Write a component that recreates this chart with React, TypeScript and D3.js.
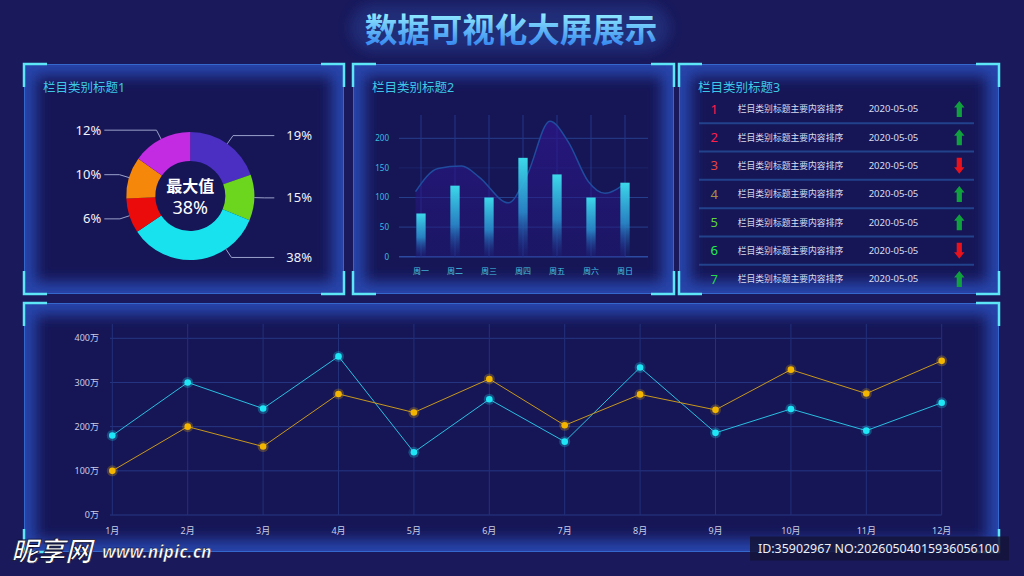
import React from 'react';
import * as d3 from 'd3';

// ---------- data ----------
const pageTitle = '数据可视化大屏展示';
const panelTitles = ['栏目类别标题1', '栏目类别标题2', '栏目类别标题3'];

const pieLabels = ['19%', '15%', '38%', '6%', '10%', '12%'];
const pieValues = [19.6, 11.6, 34.4, 8.8, 10.5, 15.1];
const pieColors = ['#4b2fc3', '#6cd61e', '#17e2ee', '#ec0b0b', '#f5880a', '#c32be3'];
const pieCenterTitle = '最大值';

const weekDays = ['周一', '周二', '周三', '周四', '周五', '周六', '周日'];
const barValues = [73, 120, 100, 167, 139, 100, 125];
const barTicks = [0, 50, 100, 150, 200];
const wavePos = [-0.16, 0.5, 1.2, 1.7, 2.57, 3.12, 3.79, 4.33, 4.92, 5.41, 6];
const waveValues = [110, 149, 153, 135, 91, 138, 229, 194, 127, 107, 124];

const rankNums = ['1', '2', '3', '4', '5', '6', '7'];
const rankColors = ['#ff1f4b', '#ff1f4b', '#e8433c', '#a89042', '#5fd43c', '#22f04c', '#22dc4c'];
const rankTexts = ['栏目类别标题主要内容排序', '栏目类别标题主要内容排序', '栏目类别标题主要内容排序', '栏目类别标题主要内容排序', '栏目类别标题主要内容排序', '栏目类别标题主要内容排序', '栏目类别标题主要内容排序'];
const rankDates = ['2020-05-05', '2020-05-05', '2020-05-05', '2020-05-05', '2020-05-05', '2020-05-05', '2020-05-05'];
const rankTrend = ['up', 'up', 'down', 'up', 'up', 'down', 'up'];

const months = ['1月', '2月', '3月', '4月', '5月', '6月', '7月', '8月', '9月', '10月', '11月', '12月'];
const seriesCyan = [180, 300, 241, 359, 142, 262, 166, 334, 186, 240, 191, 254];
const seriesGold = [100, 200, 155, 274, 232, 308, 203, 273, 238, 329, 275, 349];
const lineTicks = [0, 100, 200, 300, 400];

const watermarkLogo = '昵享网';
const watermarkUrl = 'www.nipic.cn';
const watermarkId = 'ID:35902967 NO:20260504015936056100';

// ---------- styles ----------
const FONT = "'Noto Sans', 'Noto Sans CJK SC', sans-serif";
const BG = '#19195c';
const PANEL_BG = '#161657';

const panels = [
  { x: 24, y: 64, w: 320, h: 230 },
  { x: 353, y: 64, w: 321, h: 230 },
  { x: 679, y: 64, w: 320, h: 230 },
  { x: 24, y: 303, w: 975, h: 249 },
];

function Panel({ id, x, y, w, h }: { id: number; x: number; y: number; w: number; h: number }) {
  const L = 23;
  const corners = [
    `M${x},${y + L}V${y}H${x + L}`,
    `M${x + w - L},${y}H${x + w}V${y + L}`,
    `M${x},${y + h - L}V${y + h}H${x + L}`,
    `M${x + w - L},${y + h}H${x + w}V${y + h - L}`,
  ];
  return (
    <g>
      <clipPath id={`pclip${id}`}>
        <rect x={x} y={y} width={w} height={h} />
      </clipPath>
      <g clipPath={`url(#pclip${id})`}>
        <rect x={x} y={y} width={w} height={h} fill={PANEL_BG} />
        <rect x={x} y={y} width={w} height={h} fill="none" stroke="#2845ab" strokeWidth={24} filter="url(#softblur)" />
      </g>
      <rect x={x + 0.5} y={y + 0.5} width={w - 1} height={h - 1} fill="none" stroke="#3468cc" strokeWidth={1} />
      {corners.map((d, i) => (
        <path key={i} d={d} fill="none" stroke="#5ce6f6" strokeWidth={2.5} />
      ))}
    </g>
  );
}

function Donut() {
  const cx = 190.3, cy = 196, rIn = 35, rOut = 64;
  const pie = d3.pie<number>().sort(null).value((d) => d)(pieValues);
  const arc = d3.arc<d3.PieArcDatum<number>>().innerRadius(rIn).outerRadius(rOut);
  const maxIdx = d3.maxIndex(pieLabels.map((s) => parseFloat(s)));
  return (
    <g>
      <g transform={`translate(${cx},${cy})`}>
        {pie.map((p, i) => (
          <path key={i} d={arc(p) || ''} fill={pieColors[i]} />
        ))}
      </g>
      {pie.map((p, i) => {
        const mid = (p.startAngle + p.endAngle) / 2;
        const right = Math.sin(mid) > 0;
        // anchor the leader on the part of the slice lying on the label's side
        const lo = right ? 0 : Math.PI, hi = right ? Math.PI : 2 * Math.PI;
        const a = (Math.max(p.startAngle, lo) + Math.min(p.endAngle, hi)) / 2;
        const s = Math.sin(a), c = Math.cos(a);
        const x0 = cx + rOut * s, y0 = cy - rOut * c;
        const x1 = cx + (rOut + 10) * s, y1 = cy - (rOut + 10) * c;
        const x2 = right ? cx + 84 : cx - 86;
        return (
          <g key={i}>
            <polyline points={`${x0},${y0} ${x1},${y1} ${x2},${y1}`} fill="none" stroke="#9aa1c9" strokeWidth={1} />
            <text x={right ? cx + 96 : cx - 89} y={y1} dy="0.35em" textAnchor={right ? 'start' : 'end'} fill="#f2f3fb" fontSize={13}>
              {pieLabels[i]}
            </text>
          </g>
        );
      })}
      <text x={cx} y={cy - 4} textAnchor="middle" fill="#ffffff" fontSize={16} fontWeight={700}>{pieCenterTitle}</text>
      <text x={cx} y={cy + 18} textAnchor="middle" fill="#ffffff" fontSize={18}>{pieLabels[maxIdx]}</text>
    </g>
  );
}

function BarChart() {
  const x = d3.scalePoint<string>().domain(weekDays).range([404, 642]).padding(0.5);
  const y = d3.scaleLinear().domain([0, 200]).range([256.7, 138.3]);
  const bw = 9.3;
  const x0 = x(weekDays[0]) as number;
  const step = x.step();
  const pts: [number, number][] = wavePos.map((p, i) => [x0 + p * step, y(waveValues[i])]);
  const area = d3.area<[number, number]>().x((d) => d[0]).y0(y(0)).y1((d) => d[1]).curve(d3.curveMonotoneX)(pts) || '';
  const line = d3.line<[number, number]>().x((d) => d[0]).y((d) => d[1]).curve(d3.curveMonotoneX)(pts) || '';
  return (
    <g>
      {barTicks.map((t) => (
        <g key={t}>
          <line x1={399} x2={648} y1={y(t)} y2={y(t)} stroke={t === 0 ? '#2c4aa2' : '#263f8c'} strokeWidth={t === 0 ? 1.5 : 1} opacity={t === 150 ? 0.35 : 1} />
          <text x={389} y={y(t)} dy="0.35em" textAnchor="end" fill="#3cbde0" fontSize={8}>{t}</text>
        </g>
      ))}
      {weekDays.map((d) => (
        <g key={d}>
          <line x1={x(d)} x2={x(d)} y1={115} y2={y(0)} stroke="#22378a" strokeWidth={1} />
          <text x={x(d)} y={270.7} dy="0.35em" textAnchor="middle" fill="#45c3e3" fontSize={8}>{d}</text>
        </g>
      ))}
      <path d={area} fill="url(#waveGrad)" />
      <path d={line} fill="none" stroke="#1f4c9e" strokeWidth={1.5} />
      {weekDays.map((d, i) => (
        <rect key={d} x={(x(d) as number) - bw / 2} y={y(barValues[i])} width={bw} height={y(0) - y(barValues[i])} fill="url(#barGrad)" />
      ))}
    </g>
  );
}

function Arrow({ cx, cy, up }: { cx: number; cy: number; up: boolean }) {
  const k = up ? 1 : -1;
  const d = `M${cx},${cy - 8 * k}L${cx + 5.2},${cy - 1.5 * k}L${cx + 2.6},${cy - 1.5 * k}L${cx + 2.6},${cy + 8 * k}L${cx - 2.6},${cy + 8 * k}L${cx - 2.6},${cy - 1.5 * k}L${cx - 5.2},${cy - 1.5 * k}Z`;
  return <path d={d} fill={up ? '#10a03e' : '#e8121c'} />;
}

function RankList() {
  const y = d3.scalePoint<string>().domain(rankNums).range([109, 279]);
  const step = y.step();
  return (
    <g>
      {rankNums.slice(0, -1).map((n) => (
        <line key={n} x1={699} x2={974} y1={(y(n) as number) + step / 2} y2={(y(n) as number) + step / 2} stroke="#22428c" strokeWidth={2} />
      ))}
      {rankNums.map((n, i) => {
        const cy = y(n) as number;
        return (
          <g key={n}>
            <text x={714.3} y={cy} dy="0.36em" textAnchor="middle" fill={rankColors[i]} fontSize={13}>{n}</text>
            <text x={737.7} y={cy} dy="0.36em" fill="#d9ddf0" fontSize={8.8}>{rankTexts[i]}</text>
            <text x={868.7} y={cy} dy="0.36em" fill="#d9ddf0" fontSize={9.5}>{rankDates[i]}</text>
            <Arrow cx={959.3} cy={cy} up={rankTrend[i] === 'up'} />
          </g>
        );
      })}
    </g>
  );
}

function LineChart() {
  const x = d3.scalePoint<string>().domain(months).range([112.3, 941.7]);
  const y = d3.scaleLinear().domain([0, 400]).range([515, 338.3]);
  const series = [
    { values: seriesCyan, line: '#2bbfe0', dot: '#1fe6f6' },
    { values: seriesGold, line: '#c9981b', dot: '#f3b500' },
  ];
  const lineGen = d3.line<number>().x((_, i) => x(months[i]) as number).y((d) => y(d));
  return (
    <g>
      {lineTicks.map((t) => (
        <g key={t}>
          <line x1={110} x2={941.7} y1={y(t)} y2={y(t)} stroke="#263683" strokeWidth={1} />
          <text x={99} y={y(t)} dy="0.35em" textAnchor="end" fill="#c9cde6" fontSize={9}>{`${t}万`}</text>
        </g>
      ))}
      {months.map((m) => (
        <g key={m}>
          <line x1={x(m)} x2={x(m)} y1={324} y2={515} stroke="#22317a" strokeWidth={1} />
          <text x={x(m)} y={530.7} dy="0.35em" textAnchor="middle" fill="#c9cde6" fontSize={9}>{m}</text>
        </g>
      ))}
      {series.map((s, si) => (
        <g key={si}>
          <path d={lineGen(s.values) || ''} fill="none" stroke={s.line} strokeWidth={1} />
          {s.values.map((v, i) => (
            <g key={i}>
              <circle cx={x(months[i])} cy={y(v)} r={5.5} fill={s.dot} opacity={0.25} />
              <circle cx={x(months[i])} cy={y(v)} r={3.3} fill={s.dot} />
            </g>
          ))}
        </g>
      ))}
    </g>
  );
}

export default function App() {
  return (
    <svg width={1024} height={576} style={{ position: 'absolute', left: 0, top: 0, display: 'block' }} fontFamily={FONT}>
      <defs>
        <filter id="softblur" x="-10%" y="-10%" width="120%" height="120%">
          <feGaussianBlur stdDeviation={7} />
        </filter>
        <filter id="titleblur" x="-20%" y="-50%" width="140%" height="200%">
          <feGaussianBlur stdDeviation={6} />
        </filter>
        <linearGradient id="titleGrad" x1="0" y1="14" x2="0" y2="44" gradientUnits="userSpaceOnUse">
          <stop offset="0" stopColor="#8fe9ff" />
          <stop offset="1" stopColor="#3a8cf0" />
        </linearGradient>
        <linearGradient id="barGrad" x1="0" y1="0" x2="0" y2="1">
          <stop offset="0" stopColor="#3cd8ea" />
          <stop offset="0.55" stopColor="#2a92d0" stopOpacity={0.85} />
          <stop offset="1" stopColor="#1d3a92" stopOpacity={0.1} />
        </linearGradient>
        <linearGradient id="waveGrad" x1="0" y1="0" x2="0" y2="1">
          <stop offset="0" stopColor="#2e168f" stopOpacity={0.7} />
          <stop offset="1" stopColor="#24177a" stopOpacity={0.4} />
        </linearGradient>
      </defs>
      <rect width={1024} height={576} fill={BG} />
      {/* title */}
      <rect x={350} y={4} width={320} height={48} rx={24} fill="#22307e" opacity={0.8} filter="url(#titleblur)" />
      <text x={511} y={42} textAnchor="middle" fontSize={32.5} fontWeight={700} fill="url(#titleGrad)" fontFamily="'Noto Sans CJK SC', sans-serif">
        {pageTitle}
      </text>
      {panels.map((p, i) => (
        <Panel key={i} id={i} {...p} />
      ))}
      {panelTitles.map((t, i) => (
        <text key={t} x={panels[i].x + 19} y={87} dy="0.36em" fill="#3cc8e6" fontSize={12.5}>{t}</text>
      ))}
      <Donut />
      <BarChart />
      <RankList />
      <LineChart />
      {/* watermark */}
      <text x={11} y={561} fill="#ffffff" fontSize={27} fontWeight={700} fontStyle="italic" stroke="#0b0b30" strokeWidth={0.8} fontFamily="'Noto Sans CJK SC', sans-serif">{watermarkLogo}</text>
      <text x={102} y={558} fill="#ffffff" fontSize={17.5} fontWeight={700} fontStyle="italic" stroke="#0b0b30" strokeWidth={0.5}>{watermarkUrl}</text>
      <rect x={750} y={536.5} width={259} height={24} fill="#141438" opacity={0.85} />
      <text x={758} y={548.5} dy="0.36em" fill="#eef0f8" fontSize={13} textLength={241} lengthAdjust="spacingAndGlyphs">{watermarkId}</text>
    </svg>
  );
}
